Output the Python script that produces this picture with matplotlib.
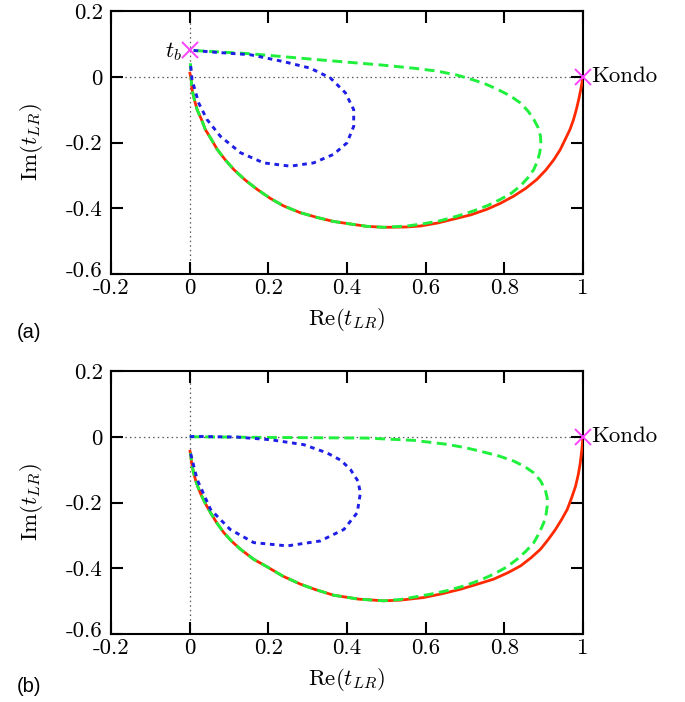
import matplotlib
matplotlib.use("Agg")
import matplotlib.pyplot as plt
from matplotlib.ticker import FixedLocator, FixedFormatter
from matplotlib.transforms import ScaledTranslation

plt.rcParams['font.family'] = ['cmr10', 'DejaVu Serif']
plt.rcParams['mathtext.fontset'] = 'cm'
plt.rcParams['axes.unicode_minus'] = False

# ---------------- data ----------------
# panel (a): lower arc shared by the red and green curves (x from 0 to 0.5)
a_arc_x = [0.004, 0.006, 0.012, 0.019, 0.03, 0.04, 0.055, 0.07, 0.09, 0.112, 0.14, 0.171, 0.205, 0.239,
           0.28, 0.324, 0.365, 0.409, 0.45, 0.494]
a_arc_y = [-0.01, -0.039, -0.07, -0.10, -0.13, -0.161, -0.19, -0.221, -0.252, -0.282, -0.313, -0.342, -0.37, -0.393,
           -0.413, -0.428, -0.44, -0.448, -0.455, -0.458]
# red: right half of the arc up to the Kondo point
a_red_right_x = [0.55, 0.587, 0.63, 0.671, 0.715, 0.756, 0.79, 0.824, 0.855, 0.883, 0.906, 0.926, 0.942, 0.955,
                 0.967, 0.976, 0.983, 0.989, 0.995, 1.0]
a_red_right_y = [-0.457, -0.454, -0.445, -0.433, -0.42, -0.403, -0.385, -0.363, -0.339, -0.312, -0.283, -0.252, -0.222, -0.19,
                 -0.16, -0.13, -0.10, -0.07, -0.035, 0.0]
a_red_start = (0.0, 0.015)
# green: from t_b along the top, round the loop, back to the shared arc
a_green_top_x = [0.01, 0.154, 0.324, 0.485, 0.57, 0.63, 0.68, 0.714, 0.75, 0.782, 0.815, 0.841, 0.86, 0.875, 0.886, 0.892,
                 0.893, 0.89, 0.884, 0.875, 0.86, 0.841, 0.818, 0.79, 0.757, 0.722, 0.68, 0.637, 0.595, 0.553]
a_green_top_y = [0.08, 0.070, 0.052, 0.036, 0.026, 0.017, 0.005, -0.007, -0.021, -0.038, -0.058, -0.08, -0.104, -0.13, -0.155, -0.181,
                 -0.206, -0.231, -0.257, -0.282, -0.307, -0.332, -0.354, -0.373, -0.392, -0.408, -0.424, -0.438, -0.447, -0.454]
a_green_end = (0.002, 0.041)
# blue loop
a_blue_x = [0.01, 0.07, 0.154, 0.239, 0.307, 0.358, 0.396, 0.417, 0.417, 0.40, 0.366, 0.315, 0.256, 0.188,
            0.129, 0.078, 0.044, 0.023, 0.006, 0.002]
a_blue_y = [0.08, 0.074, 0.067, 0.046, 0.026, -0.004, -0.049, -0.10, -0.151, -0.201, -0.236, -0.262, -0.272, -0.262,
            -0.231, -0.181, -0.13, -0.08, -0.009, 0.041]

# panel (b)
b_arc_x = [0.002, 0.005, 0.01, 0.017, 0.027, 0.039, 0.053, 0.069, 0.087, 0.107, 0.129, 0.163, 0.196, 0.237,
           0.281, 0.32, 0.366, 0.43, 0.493]
b_arc_y = [-0.049, -0.08, -0.11, -0.14, -0.171, -0.201, -0.231, -0.262, -0.292, -0.318, -0.342, -0.373, -0.395, -0.424,
           -0.448, -0.465, -0.482, -0.494, -0.499]
b_red_right_x = [0.536, 0.595, 0.64, 0.688, 0.73, 0.773, 0.81, 0.841, 0.868, 0.892, 0.912, 0.93, 0.946, 0.96,
                 0.971, 0.981, 0.988, 0.993, 0.997, 1.0]
b_red_right_y = [-0.497, -0.489, -0.478, -0.464, -0.449, -0.433, -0.413, -0.393, -0.368, -0.342, -0.312, -0.282, -0.251, -0.221,
                 -0.186, -0.151, -0.115, -0.08, -0.04, 0.0]
b_red_start = (0.0, -0.04)
b_green_top_x = [0.0, 0.196, 0.45, 0.57, 0.654, 0.70, 0.739, 0.785, 0.824, 0.852, 0.875, 0.892, 0.904, 0.909, 0.909,
                 0.906, 0.90, 0.889, 0.875, 0.855, 0.832, 0.805, 0.773, 0.737, 0.697, 0.655, 0.612, 0.574, 0.536]
b_green_top_y = [0.0, -0.002, -0.004, -0.011, -0.023, -0.033, -0.044, -0.058, -0.074, -0.091, -0.11, -0.134, -0.161, -0.186, -0.211,
                 -0.237, -0.262, -0.292, -0.322, -0.348, -0.373, -0.397, -0.418, -0.437, -0.454, -0.468, -0.479, -0.487, -0.495]
b_blue_x = [0.0, 0.0145, 0.12, 0.205, 0.29, 0.349, 0.385, 0.409, 0.428, 0.434, 0.426, 0.392, 0.332, 0.248,
            0.163, 0.103, 0.053, 0.019, 0.002]
b_blue_y = [0.0, 0.001, -0.001, -0.009, -0.024, -0.049, -0.072, -0.10, -0.135, -0.171, -0.231, -0.282, -0.317, -0.332,
            -0.322, -0.282, -0.221, -0.13, -0.049]

a_markers_x = [0.0, 1.0]
a_markers_y = [0.08, 0.0]
b_markers_x = [1.0]
b_markers_y = [0.0]

xticks = [-0.2, 0, 0.2, 0.4, 0.6, 0.8, 1.0]
xtick_labels = ['-0.2', '0', '0.2', '0.4', '0.6', '0.8', '1']
yticks = [-0.6, -0.4, -0.2, 0, 0.2]
ytick_labels = ['-0.6', '-0.4', '-0.2', '0', '0.2']

RED = '#ff2a00'
GREEN = '#1ef03c'
BLUE = '#1e1ee6'
MAG = '#ff40ff'

W, H = 685, 702
fig = plt.figure(figsize=(W / 100, H / 100), dpi=100)

def make_axes(top_px, bottom_px):
    left, right = 111, 583
    return fig.add_axes([left / W, 1 - bottom_px / H, (right - left) / W, (bottom_px - top_px) / H])

def style(ax):
    ax.set_xlim(-0.2, 1.0)
    ax.set_ylim(-0.6, 0.2)
    ax.xaxis.set_major_locator(FixedLocator(xticks))
    ax.xaxis.set_major_formatter(FixedFormatter(xtick_labels))
    ax.yaxis.set_major_locator(FixedLocator(yticks))
    ax.yaxis.set_major_formatter(FixedFormatter(ytick_labels))
    ax.tick_params(direction='in', length=8.5, width=1.5, labelsize=16.5,
                   top=True, right=True)
    ax.tick_params(axis='x', pad=3)
    ax.tick_params(axis='y', pad=6)
    for s in ax.spines.values():
        s.set_linewidth(1.5)
    ax.axhline(0, color='0.35', lw=0.9, ls=(0, (1.2, 2.5)), zorder=1)
    ax.axvline(0, color='0.35', lw=0.9, ls=(0, (1.2, 2.5)), zorder=1)
    ax.set_xlabel(r'$\mathrm{Re}(t_{LR})$', fontsize=16.5, labelpad=6)
    fig.canvas.draw()
    # nudge the lowest y tick label up a little so it clears the first x tick label
    lab = ax.get_yticklabels()[0]
    lab.set_transform(lab.get_transform() + ScaledTranslation(0, 5 / 100, fig.dpi_scale_trans))

def draw(ax, arc_x, arc_y, rr_x, rr_y, r_start, gt_x, gt_y, g_end, bx, by, mx, my):
    rx = [r_start[0]] + arc_x + rr_x
    ry = [r_start[1]] + arc_y + rr_y
    gx = gt_x + arc_x[::-1] + ([g_end[0]] if g_end else [])
    gy = gt_y + arc_y[::-1] + ([g_end[1]] if g_end else [])
    ax.plot(rx, ry, color=RED, lw=2.0, zorder=3, solid_capstyle='butt')
    ax.plot(gx, gy, color=GREEN, lw=2.1, ls=(0, (3.4, 1.9)), zorder=4)
    ax.plot(bx, by, color=BLUE, lw=2.1, ls=(0, (1.6, 1.6)), zorder=5)
    ax.plot(mx, my, ls='none', marker='x', ms=12, mew=1.4, color=MAG, zorder=6, clip_on=False)

ax1 = make_axes(11, 274)
draw(ax1, a_arc_x, a_arc_y, a_red_right_x, a_red_right_y, a_red_start, a_green_top_x, a_green_top_y, a_green_end,
     a_blue_x, a_blue_y, a_markers_x, a_markers_y)
style(ax1)
ax1.text(-0.02, 0.078, r'$t_b$', fontsize=16.5, ha='right', va='center')
ax1.text(1.022, 0.003, 'Kondo', fontsize=16.5, ha='left', va='center', clip_on=False)

ax2 = make_axes(371, 634)
draw(ax2, b_arc_x, b_arc_y, b_red_right_x, b_red_right_y, b_red_start, b_green_top_x, b_green_top_y, None,
     b_blue_x, b_blue_y, b_markers_x, b_markers_y)
style(ax2)
ax2.text(1.022, 0.003, 'Kondo', fontsize=16.5, ha='left', va='center', clip_on=False)

fig.text(32 / W, 1 - 142 / H, r'$\mathrm{Im}(t_{LR})$', rotation=90, fontsize=16.5, ha='center', va='center')
fig.text(32 / W, 1 - 502 / H, r'$\mathrm{Im}(t_{LR})$', rotation=90, fontsize=16.5, ha='center', va='center')
fig.text(17 / W, 1 - 333 / H, '(a)', fontsize=14.5, family=['Liberation Sans', 'DejaVu Sans'], ha='left', va='center')
fig.text(17 / W, 1 - 687 / H, '(b)', fontsize=14.5, family=['Liberation Sans', 'DejaVu Sans'], ha='left', va='center')

fig.savefig('out.png', dpi=100, facecolor='white')
